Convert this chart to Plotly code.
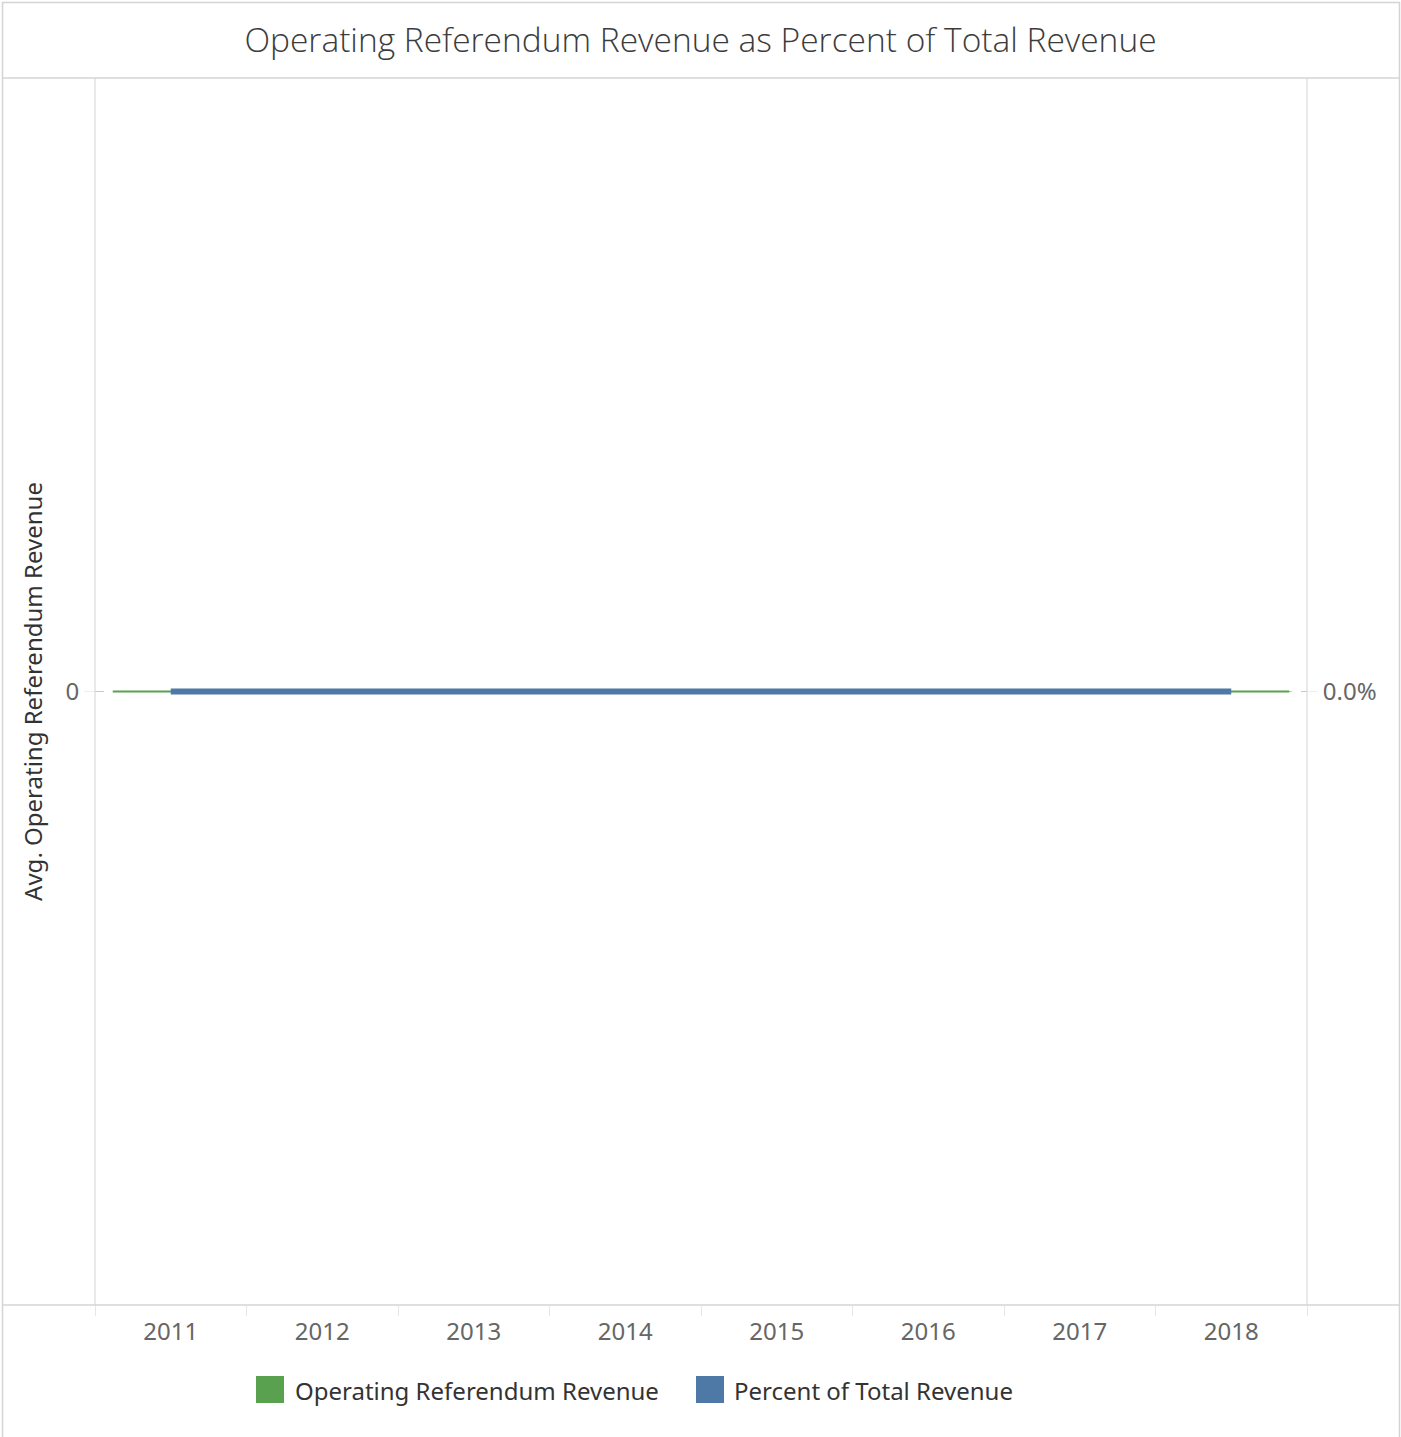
import plotly.graph_objects as go

# ---- data ----
years = ["2011", "2012", "2013", "2014", "2015", "2016", "2017", "2018"]
operating_referendum_revenue = [0, 0, 0, 0, 0, 0, 0, 0]
percent_of_total_revenue = [0.0, 0.0, 0.0, 0.0, 0.0, 0.0, 0.0, 0.0]

GREEN = "#59a14f"
BLUE = "#4e79a7"
FRAME = "#d4d4d4"
FONT = "Noto Sans"

W, H = 1401, 1437
L, R, T, B = 95, 1307, 78, 1305


def px(x):
    return (x - L) / (R - L)


def py(y):
    return (B - y) / (B - T)


idx = list(range(len(years)))
half_bar = 0.383

# green bars (zero height -> drawn as thin segments at their value)
gx, gy = [], []
for i, v in zip(idx, operating_referendum_revenue):
    gx += [i - half_bar, i + half_bar, None]
    gy += [v, v, None]

fig = go.Figure()
fig.add_trace(go.Scatter(
    x=gx, y=gy, mode="lines", name="Operating Referendum Revenue",
    line=dict(color=GREEN, width=2), showlegend=False, hoverinfo="skip"))
fig.add_trace(go.Scatter(
    x=idx, y=percent_of_total_revenue, mode="lines", name="Percent of Total Revenue",
    line=dict(color=BLUE, width=6), yaxis="y2", showlegend=False))

shapes = [
    dict(type="rect", xref="paper", yref="paper", x0=px(2.5), x1=px(1399.5),
         y0=py(1450), y1=py(2.5), line=dict(color=FRAME, width=1.5)),
    dict(type="line", xref="paper", yref="paper", x0=px(2.5), x1=px(1399.5),
         y0=py(78), y1=py(78), line=dict(color=FRAME, width=1.5)),
    dict(type="line", xref="paper", yref="paper", x0=px(2.5), x1=px(1399.5),
         y0=py(1305), y1=py(1305), line=dict(color=FRAME, width=1.5)),
    dict(type="line", xref="paper", yref="paper", x0=px(95), x1=px(95),
         y0=py(78), y1=py(1305), line=dict(color=FRAME, width=1)),
    dict(type="line", xref="paper", yref="paper", x0=px(1307), x1=px(1307),
         y0=py(78), y1=py(1305), line=dict(color=FRAME, width=1)),
    # legend swatches
    dict(type="rect", xref="paper", yref="paper", x0=px(256), x1=px(284),
         y0=py(1403), y1=py(1376), fillcolor=GREEN, line=dict(width=0)),
    dict(type="rect", xref="paper", yref="paper", x0=px(696), x1=px(724),
         y0=py(1403), y1=py(1376), fillcolor=BLUE, line=dict(width=0)),
]

annotations = [
    dict(text="Operating Referendum Revenue", xref="paper", yref="paper",
         x=px(293), y=py(1390), xanchor="left", yanchor="middle", showarrow=False,
         font=dict(family=FONT, size=24, color="#333333")),
    dict(text="Percent of Total Revenue", xref="paper", yref="paper",
         x=px(732), y=py(1390), xanchor="left", yanchor="middle", showarrow=False,
         font=dict(family=FONT, size=24, color="#333333")),
]

fig.update_layout(
    width=W, height=H,
    margin=dict(l=L, r=W - R, t=T, b=H - B, pad=0),
    paper_bgcolor="white", plot_bgcolor="white",
    font=dict(family=FONT, color="#666666"),
    title=dict(text="Operating Referendum Revenue as Percent of Total Revenue",
               x=0.5, xanchor="center", y=1 - 40 / H, yanchor="middle",
               font=dict(family="Open Sans", size=33.5, color="#3c3c3c", weight=300)),
    showlegend=False,
    shapes=shapes,
    annotations=annotations,
    xaxis=dict(
        range=[-0.5, 7.5], tickvals=idx, ticktext=years,
        ticks="", showgrid=False, zeroline=False, showline=False,
        tickfont=dict(family=FONT, size=24, color="#666666"),
        ticklabelstandoff=10,
        minor=dict(tick0=-0.5, dtick=1, ticks="outside", ticklen=10,
                   tickcolor="#e6e6e6", tickwidth=1, showgrid=False),
    ),
    yaxis=dict(
        range=[-1, 1], tickvals=[0], ticktext=["0"],
        ticks="outside", ticklen=10, tickcolor="#eeeeee",
        showgrid=True, gridcolor="#c8c8c8", griddash="dash", gridwidth=1,
        zeroline=False, showline=False,
        tickfont=dict(family=FONT, size=24, color="#666666"),
        title=dict(text="Avg. Operating Referendum Revenue", standoff=16,
                   font=dict(family=FONT, size=24, color="#333333")),
    ),
    yaxis2=dict(
        range=[-1, 1], tickvals=[0], tickformat=".1%", overlaying="y", side="right",
        ticks="outside", ticklen=10, tickcolor="#eeeeee",
        showgrid=False, zeroline=False, showline=False,
        tickfont=dict(family=FONT, size=24, color="#666666"),
    ),
)

fig.write_html("out.html", config={"displayModeBar": False},
               post_script="document.body.style.margin='0px';")
